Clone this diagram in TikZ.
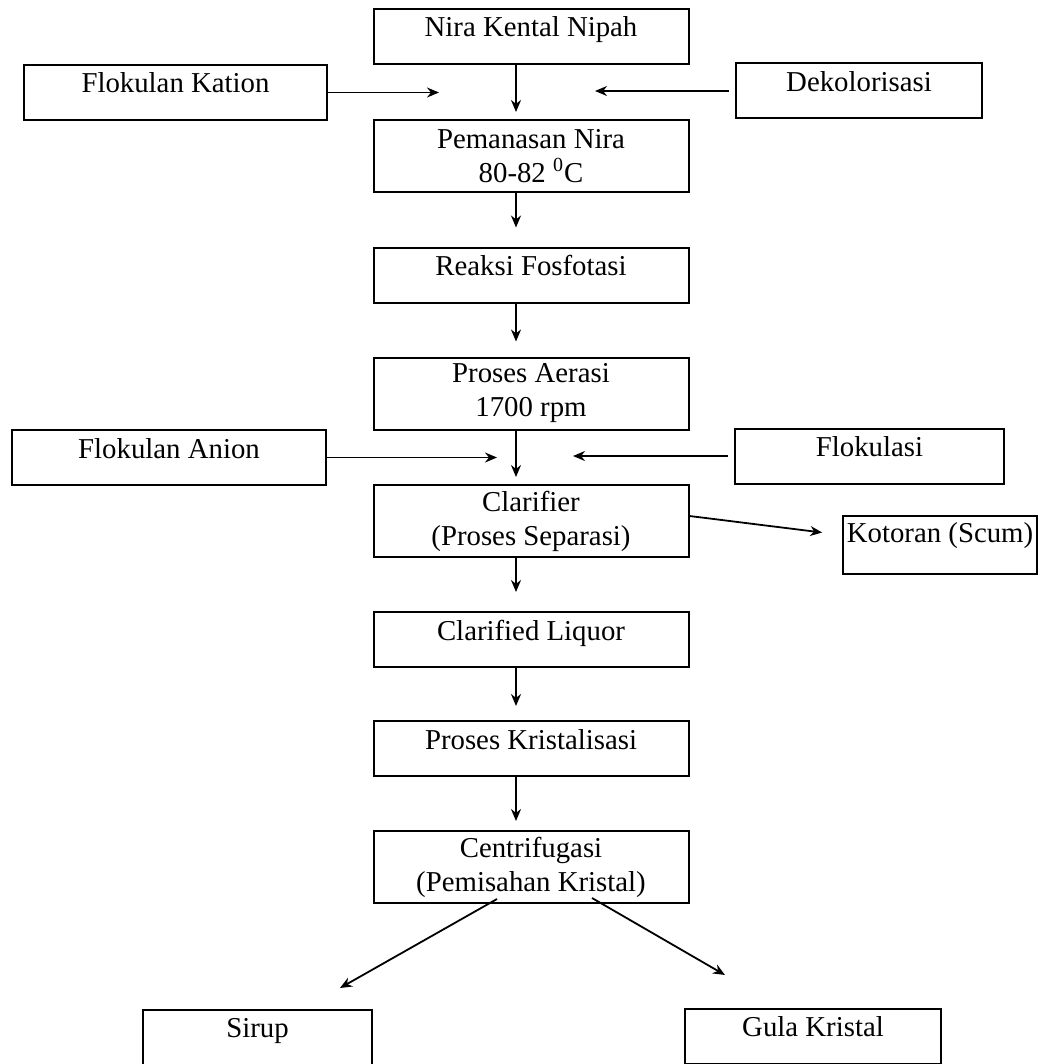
\documentclass[tikz,border=0pt]{standalone}
\usepackage{fontspec}
\setmainfont{Liberation Serif}
\usepackage{tikz}
\usetikzlibrary{arrows.meta}

\begin{document}
\begin{tikzpicture}[
    x=0.5pt, y=-0.5pt,
    font=\fontsize{14.4}{17}\selectfont,
    box/.style={draw, line width=1pt, inner sep=0pt, minimum width=157.5pt,
                text height=14pt, text depth=13.5pt, align=center},
    box2/.style={draw, line width=1pt, inner sep=0pt, minimum width=157.5pt,
                 minimum height=36pt, align=center},
    arrow/.style={->, >={Stealth[length=6pt, width=5pt]}, line width=0.9pt}
]
\useasboundingbox (0,0) rectangle (1039,1064);

% --- main column ---
\node[box] (nira) at (531, 36.5) {Nira Kental Nipah};
\node[box2] (panas) at (531, 156) {Pemanasan Nira\\80-82 \textsuperscript{0}C};
\node[box] (reaksi) at (531, 275) {Reaksi Fosfotasi};
\node[box2] (aerasi) at (531, 393.5) {Proses Aerasi\\1700 rpm};
\node[box2] (clar) at (531, 521) {Clarifier\\(Proses Separasi)};
\node[box] (liquor) at (531, 639.5) {Clarified Liquor};
\node[box] (kristal) at (531, 748.5) {Proses Kristalisasi};
\node[box2] (centri) at (531, 867) {Centrifugasi\\(Pemisahan Kristal)};

% --- side inputs ---
\node[box, minimum width=151.5pt] (kation) at (175.5, 92.5) {Flokulan Kation};
\node[box, minimum width=123pt] (deko) at (859, 91) {Dekolorisasi};
\node[box, minimum width=157pt] (anion) at (169, 457.5) {Flokulan Anion};
\node[box, minimum width=134.5pt] (floku) at (869.5, 456) {Flokulasi};

% --- outputs ---
\node[box, minimum width=97pt, text height=13pt, text depth=16pt] (scum) at (940, 545) {Kotoran (Scum)};
\node[box, minimum width=114.5pt] (sirup) at (257.5, 1037) {Sirup};
\node[box, minimum width=128pt] (gula) at (813, 1036) {Gula Kristal};

% spine of the down arrows and free arrow ends
\coordinate (spine) at (516, 0);
\coordinate (kin) at (439, 92.5);
\coordinate (din) at (595, 91);
\coordinate (ain) at (497, 457.5);
\coordinate (fin) at (573, 456);
\coordinate (sin) at (340, 988);
\coordinate (gin) at (725, 975);

% down arrows
\draw[arrow, shorten >=3.5pt] (nira.south -| spine) -- (panas.north -| spine);
\draw[arrow, shorten >=9.5pt] (panas.south -| spine) -- (reaksi.north -| spine);
\draw[arrow, shorten >=7.5pt] (reaksi.south -| spine) -- (aerasi.north -| spine);
\draw[arrow, shorten >=3.5pt] (aerasi.south -| spine) -- (clar.north -| spine);
\draw[arrow, shorten >=9.5pt] (clar.south -| spine) -- (liquor.north -| spine);
\draw[arrow, shorten >=7pt] (liquor.south -| spine) -- (kristal.north -| spine);
\draw[arrow, shorten >=4.5pt] (kristal.south -| spine) -- (centri.north -| spine);

% side arrows
\draw[arrow] (kation.east) -- (kin);
\draw[arrow, shorten <=3pt] (deko.west) -- (din);
\draw[arrow] (anion.east) -- (ain);
\draw[arrow, shorten <=3pt] (floku.west) -- (fin);

% scum
\draw[arrow, shorten >=10pt] ([yshift=2.5pt]clar.east) -- ([yshift=5pt]scum.west);

% split after centrifuge
\draw[arrow] ([xshift=-17pt, yshift=2.5pt]centri.south) -- (sin);
\draw[arrow] ([xshift=30.5pt, yshift=3pt]centri.south) -- (gin);

\end{tikzpicture}
\end{document}
